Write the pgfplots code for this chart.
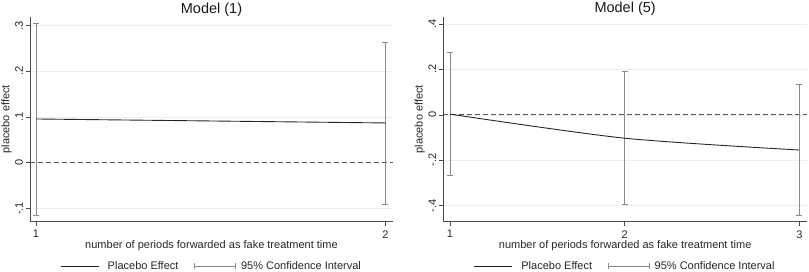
\documentclass[border=0pt]{standalone}
\usepackage{fontspec}
\setmainfont{Liberation Sans}
\usepackage{pgfplots}
\pgfplotsset{compat=1.18}
\definecolor{lineC}{HTML}{262626}
\definecolor{ciC}{HTML}{8A8A8A}
\definecolor{dashC}{HTML}{5A5A5A}
\definecolor{gridC}{HTML}{EDEDED}
\definecolor{axisC}{HTML}{4A4A4A}
\pgfplotsset{
  stata/.style={
    scale only axis,
    anchor=south west,
    axis x line*=bottom,
    axis y line*=left,
    axis line style={-, axisC, line width=0.7pt},
    tick style={axisC, line width=0.6pt},
    tick align=outside,
    major tick length=4bp,
    ymajorgrids,
    grid style={gridC, line width=0.5pt},
    /pgf/number format/assume math mode=true,
    tick label style={font=\fontsize{11bp}{13bp}\selectfont, text=black!85},
    xticklabel style={anchor=north, inner sep=0pt, yshift=-4.5bp},
    yticklabel style={rotate=90, anchor=center, inner sep=0pt},
    yticklabel shift=7bp,
    every axis x label/.style={at={(axis description cs:0.5,0)}, anchor=center, yshift=-24bp,
      font=\fontsize{11bp}{13bp}\selectfont, text=black!85},
    every axis y label/.style={at={(axis description cs:0,0.5)}, anchor=center, rotate=90, yshift=23.5bp,
      font=\fontsize{11bp}{13bp}\selectfont, text=black!85},
    every axis title/.style={at={(axis description cs:0.5,1)}, anchor=center, yshift=7.5bp,
      font=\fontsize{14.5bp}{16bp}\selectfont, text=black!90},
    xlabel={number of periods forwarded as fake treatment time},
    ylabel={placebo effect},
    legend style={draw=none, fill=none, at={(axis description cs:0.5,0)}, anchor=center, yshift=-44.3bp,
      font=\fontsize{11bp}{13bp}\selectfont, text=black!85, inner sep=0pt,
      /tikz/every even column/.append style={column sep=14bp}},
    legend columns=2,
    legend cell align=left,
  },
  ci/.style={ciC, line width=0.8pt, mark=-, mark size=3bp, mark options={solid, ciC, line width=0.8pt}, forget plot},
}
\begin{document}
\begin{tikzpicture}
\path[use as bounding box] (0,0) rectangle (809bp,272bp);
% ---------- Model (1)
\begin{axis}[stata,
  at={(30bp,50.3bp)}, width=363bp, height=204.7bp,
  xmin=0.983, xmax=2.022, ymin=-0.1292, ymax=0.319,
  xtick={1,2}, xticklabels={1,2},
  ytick={-0.1,0,0.1,0.2,0.3}, yticklabels={-.1,0,.1,.2,.3},
  title={Model (1)},
]
\addplot[dashC, line width=0.9pt, dash pattern=on 5bp off 3bp, forget plot] coordinates {(0.983,0) (2.022,0)};
\addplot[ci] coordinates {(1,-0.116) (1,0.304)};
\addplot[ci] coordinates {(2,-0.0905) (2,0.264)};
\addplot[lineC, line width=0.9pt, no markers, forget plot] coordinates {(1,0.0957) (2,0.0870)};
\addlegendimage{legend image code/.code={\draw[lineC, line width=0.9pt] (0bp,0bp) -- (38bp,0bp); \path (45bp,0bp);}}
\addlegendentry{Placebo Effect}
\addlegendimage{legend image code/.code={\draw[ciC, line width=0.8pt] (0bp,0bp) -- (41bp,0bp); \draw[ciC, line width=0.8pt] (0bp,-3bp) -- (0bp,3bp); \draw[ciC, line width=0.8pt] (41bp,-3bp) -- (41bp,3bp); \path (44bp,0bp);}}
\addlegendentry{95\% Confidence Interval}
\end{axis}
% ---------- Model (5)
\begin{axis}[stata,
  at={(443.3bp,50.3bp)}, width=363.7bp, height=205bp,
  xmin=0.962, xmax=3.044, ymin=-0.4707, ymax=0.432,
  xtick={1,2,3}, xticklabels={1,2,3},
  ytick={-0.4,-0.2,0,0.2,0.4}, yticklabels={-.4,-.2,0,.2,.4},
  title={Model (5)},
]
\addplot[dashC, line width=0.9pt, dash pattern=on 5bp off 3bp, forget plot] coordinates {(0.962,0) (3.044,0)};
\addplot[ci] coordinates {(1,-0.269) (1,0.2755)};
\addplot[ci] coordinates {(2,-0.396) (2,0.189)};
\addplot[ci] coordinates {(3,-0.444) (3,0.1346)};
\addplot[lineC, line width=0.9pt, smooth, tension=0.45, no markers, forget plot] coordinates {(1,0.003) (2,-0.103) (3,-0.155)};
\addlegendimage{legend image code/.code={\draw[lineC, line width=0.9pt] (0bp,0bp) -- (38bp,0bp); \path (45bp,0bp);}}
\addlegendentry{Placebo Effect}
\addlegendimage{legend image code/.code={\draw[ciC, line width=0.8pt] (0bp,0bp) -- (41bp,0bp); \draw[ciC, line width=0.8pt] (0bp,-3bp) -- (0bp,3bp); \draw[ciC, line width=0.8pt] (41bp,-3bp) -- (41bp,3bp); \path (44bp,0bp);}}
\addlegendentry{95\% Confidence Interval}
\end{axis}
\end{tikzpicture}
\end{document}
